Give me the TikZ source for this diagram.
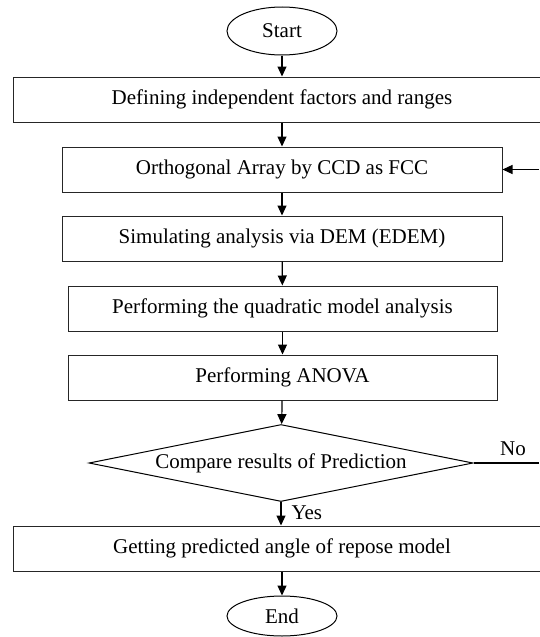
\documentclass[tikz,border=0pt]{standalone}
\usepackage{fontspec}
\setmainfont{Liberation Serif}
\usetikzlibrary{shapes.geometric,arrows.meta}
\begin{document}
\begin{tikzpicture}[x=1pt,y=-1pt,
  every node/.style={font=\fontsize{21}{24}\selectfont},
  boxst/.style={draw=black!85,line width=1pt,inner sep=0pt},
  ell/.style={draw=black,line width=1pt,ellipse,minimum width=110pt,minimum height=48pt,inner sep=0pt},
  arr/.style={line width=1.2pt,-{Triangle[length=10pt,width=9pt]}},
  ln/.style={line width=1.2pt}]
\useasboundingbox (0,0) rectangle (539,637);
\node[ell] (start) at (282,31) {Start};
\node[boxst,minimum width=538pt,minimum height=45pt] (b1) at (282,99.5) {Defining independent factors and ranges};
\node[boxst,minimum width=440pt,minimum height=45pt] (b2) at (282,169.5) {Orthogonal Array by CCD as FCC};
\node[boxst,minimum width=440pt,minimum height=45pt] (b3) at (282,238.5) {Simulating analysis via DEM (EDEM)};
\node[boxst,minimum width=429pt,minimum height=45pt] (b4) at (282.5,308.5) {Performing the quadratic model analysis};
\node[boxst,minimum width=429pt,minimum height=45pt] (b5) at (282.5,377.5) {Performing ANOVA};
\node[draw=black,line width=1pt,diamond,aspect=4.95,minimum width=384pt,minimum height=77pt,inner sep=0pt] (d) at (281,463) {Compare results of Prediction};
\node[boxst,minimum width=538pt,minimum height=45pt] (b6) at (282,548.5) {Getting predicted angle of repose model};
\node[ell,minimum height=40pt] (end) at (282,616) {End};
\coordinate (noend) at (539,463);
\coordinate (backin) at (539,169.5);
\draw[arr] (start) -- (start |- b1.north);
\draw[arr] (b1) -- (b2);
\draw[arr] (b2) -- (b3);
\draw[arr] (b3) -- (b4);
\draw[arr] (b4) -- (b5);
\draw[arr] (b5) -- (d);
\draw[arr] (d) -- (d |- b6.north);
\draw[arr] (b6) -- (end);
\draw[ln] (d.east) -- (noend);
\draw[arr] (backin) -- (b2.east);
\node[anchor=south] at (513,459) {No};
\node[anchor=west] at (288,513) {Yes};
\end{tikzpicture}
\end{document}
